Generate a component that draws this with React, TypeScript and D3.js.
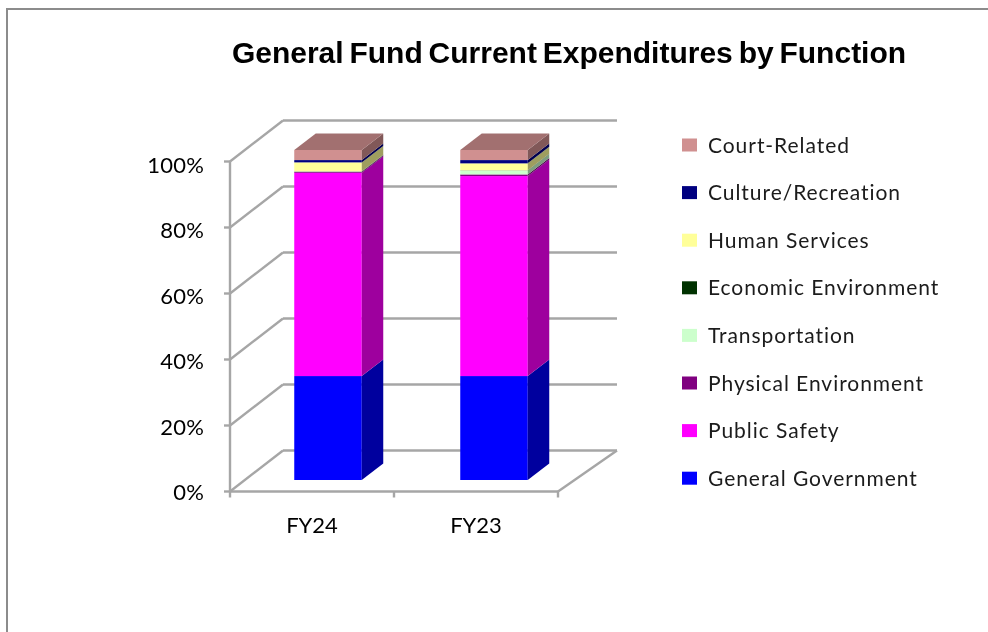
import React from 'react'
import * as d3 from 'd3'

const categories = ['FY24', 'FY23']
const seriesNames = [
  'General Government',
  'Public Safety',
  'Physical Environment',
  'Transportation',
  'Economic Environment',
  'Human Services',
  'Culture/Recreation',
  'Court-Related',
]
const seriesColors = ['#0000ff', '#ff00ff', '#800080', '#ccffcc', '#003300', '#ffff99', '#000080', '#d09090']
const fy24Values = [31.5, 61.6, 0.3, 0.1, 0.05, 2.7, 0.7, 3.05]
const fy23Values = [31.5, 60.6, 0.5, 1.2, 0.05, 2.1, 1.0, 3.05]
const yTicks = [0, 20, 40, 60, 80, 100]

const width = 988
const height = 632

// the "3d" box is just a fixed shear, front plane to back wall
const wallDx = 53
const wallDy = -41
const barDx = 21.5
const barDy = -16.5
const barInsetX = 16
const barInsetY = -11.5
const barWidth = 67.5

const y = d3.scaleLinear().domain([0, 100]).range([491.5, 161.5])
// tick labels sit on a slightly tighter spacing than the ticks
const yLabel = d3.scaleLinear().domain([0, 100]).range([500, 173])
const x = d3.scaleBand().domain(categories).range([230, 558])
// bars are a touch further apart than the axis ticks
const xBar = d3.scaleBand().domain(categories).range([229, 561])

const rows = categories.map((c, i) => {
  const values = i === 0 ? fy24Values : fy23Values
  const row: Record<string, number | string> = { category: c }
  seriesNames.forEach((name, j) => {
    row[name] = values[j]
  })
  return row
})

const stacked = d3.stack<any>().keys(seriesNames)(rows)

const shade = (color: string, k: number) => {
  const c = d3.rgb(color)
  return d3.rgb(c.r * k, c.g * k, c.b * k).formatHex()
}

const poly = (pts: [number, number][]) => pts.map((p) => p.join(',')).join(' ')

const gridColor = '#a6a6a6'
const labelFont = 'Lato, sans-serif'

const App = () => {
  const frontLeft = x.range()[0]
  const frontRight = x.range()[1]

  return (
    <svg width={width} height={height} style={{ position: 'absolute', left: 0, top: 0 }}>
      <defs>
        <filter id="soft" x="-2%" y="-2%" width="104%" height="104%">
          <feGaussianBlur stdDeviation={0.45} />
        </filter>
      </defs>
      <rect width={width} height={height} fill="#ffffff" />
      <g filter="url(#soft)">
        <path d={`M7,${height + 4}V9H${width + 4}`} fill="none" stroke="#8c8c8c" strokeWidth={2} />

        <text x={569} y={62.5} textAnchor="middle" fontFamily="'Liberation Sans', Arial, sans-serif" fontWeight="bold" fontSize={30} wordSpacing={-2.5} fill="#000000">
          General Fund Current Expenditures by Function
        </text>

        {/* walls and floor */}
        <g stroke={gridColor} strokeWidth={2.4} fill="none">
          {yTicks.map((t) => (
            <g key={t}>
              <line x1={frontLeft} y1={y(t)} x2={frontLeft + wallDx} y2={y(t) + wallDy} />
              <line x1={frontLeft + wallDx} y1={y(t) + wallDy} x2={frontRight + wallDx + 6} y2={y(t) + wallDy} />
              <line x1={frontLeft - 6} y1={y(t)} x2={frontLeft} y2={y(t)} />
            </g>
          ))}
          <line x1={frontLeft} y1={y(0)} x2={frontLeft} y2={y(100)} />
          <line x1={frontLeft} y1={y(0)} x2={frontRight} y2={y(0)} />
          <line x1={frontRight} y1={y(0)} x2={frontRight + wallDx + 6} y2={y(0) + wallDy} />
          {[frontLeft, frontLeft + x.step(), frontRight].map((t) => (
            <line key={t} x1={t} y1={y(0)} x2={t} y2={y(0) + 6} />
          ))}
        </g>

        {/* bars */}
        {categories.map((c) => {
          const left = (xBar(c) as number) + xBar.bandwidth() / 2 - barWidth / 2 + barInsetX
          const right = left + barWidth
          return (
            <g key={c}>
              {stacked.map((s, i) => {
                const d = s[categories.indexOf(c)]
                const y0 = y(d[0]) + barInsetY
                const y1 = y(d[1]) + barInsetY
                return (
                  <g key={s.key}>
                    <rect x={left} y={y1} width={barWidth} height={y0 - y1} fill={seriesColors[i]} />
                    <polygon
                      points={poly([
                        [right, y0],
                        [right + barDx, y0 + barDy],
                        [right + barDx, y1 + barDy],
                        [right, y1],
                      ])}
                      fill={shade(seriesColors[i], 0.62)}
                    />
                    {i === seriesNames.length - 1 && (
                      <polygon
                        points={poly([
                          [left, y1],
                          [left + barDx, y1 + barDy],
                          [right + barDx, y1 + barDy],
                          [right, y1],
                        ])}
                        fill={shade(seriesColors[i], 0.78)}
                      />
                    )}
                  </g>
                )
              })}
            </g>
          )
        })}

        {yTicks.map((t) => (
          <text key={t} x={204} y={yLabel(t)} textAnchor="end" fontFamily={labelFont} fontSize={22} letterSpacing={0.2} fill="#000000">
            {t}%
          </text>
        ))}
        {categories.map((c) => (
          <text key={c} x={(x(c) as number) + x.bandwidth() / 2} y={533} textAnchor="middle" fontFamily={labelFont} fontSize={22} fill="#000000">
            {c}
          </text>
        ))}

        {/* legend, top entry is the last series */}
        {seriesNames
          .map((name, i) => ({ name, color: seriesColors[i] }))
          .reverse()
          .map((d, i) => (
            <g key={d.name} transform={`translate(682,${145 + i * 47.6})`}>
              <rect x={0} y={-6.5} width={15} height={13} fill={d.color} />
              <text x={26} y={7.5} fontFamily={labelFont} fontSize={21} letterSpacing={0.95} fill="#1a1a1a">
                {d.name}
              </text>
            </g>
          ))}
      </g>
    </svg>
  )
}

export default App
